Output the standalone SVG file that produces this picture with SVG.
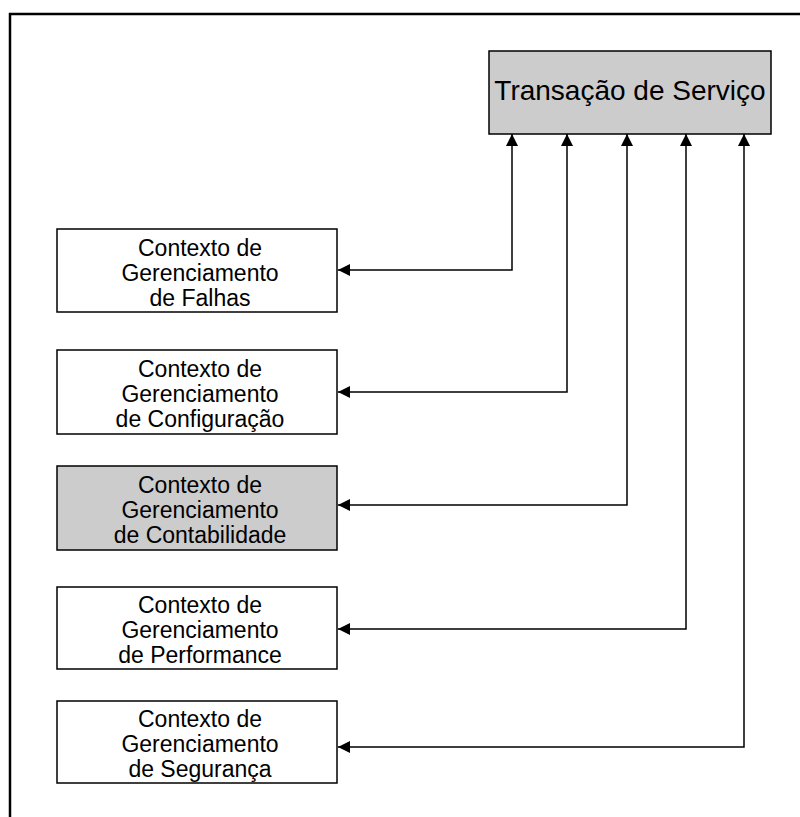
<svg xmlns="http://www.w3.org/2000/svg" width="800" height="817" viewBox="0 0 800 817">
<defs>
<style>
.frame{stroke:#000;stroke-width:2.5;fill:none}
.box{stroke:#000;stroke-width:1.5;fill:#fff}
.gray{fill:#cccccc}
.t{font-family:"Liberation Sans",Arial,sans-serif;font-size:23px;fill:#000;text-anchor:middle}
.title{font-size:28px}
.c{stroke:#000;stroke-width:1.5;fill:none}
</style>
<marker id="ah" viewBox="0 0 12 12" refX="12" refY="6" markerWidth="12" markerHeight="12" markerUnits="userSpaceOnUse" orient="auto-start-reverse">
<path d="M0,0 L12,6 L0,12 Z" fill="#000"/>
</marker>
</defs>
<rect width="800" height="817" fill="#fff"/>
<path class="frame" d="M800,14 H10 V817"/>
<g id="transacao">
<rect class="box gray" x="489" y="51" width="282" height="83"/>
<text class="t title" x="630" y="100">Transação de Serviço</text>
</g>
<g id="falhas">
<rect class="box" x="57" y="229" width="280" height="83"/>
<text class="t" x="200" y="256">Contexto de</text>
<text class="t" x="200" y="281">Gerenciamento</text>
<text class="t" x="200" y="306">de Falhas</text>
</g>
<g id="configuracao">
<rect class="box" x="57" y="350" width="280" height="84"/>
<text class="t" x="200" y="377">Contexto de</text>
<text class="t" x="200" y="402">Gerenciamento</text>
<text class="t" x="200" y="427">de Configuração</text>
</g>
<g id="contabilidade">
<rect class="box gray" x="57" y="466" width="280" height="84"/>
<text class="t" x="200" y="493">Contexto de</text>
<text class="t" x="200" y="518">Gerenciamento</text>
<text class="t" x="200" y="543">de Contabilidade</text>
</g>
<g id="performance">
<rect class="box" x="57" y="587" width="280" height="82"/>
<text class="t" x="200" y="613">Contexto de</text>
<text class="t" x="200" y="638">Gerenciamento</text>
<text class="t" x="200" y="663">de Performance</text>
</g>
<g id="seguranca">
<rect class="box" x="57" y="701" width="280" height="82"/>
<text class="t" x="200" y="727">Contexto de</text>
<text class="t" x="200" y="752">Gerenciamento</text>
<text class="t" x="200" y="777">de Segurança</text>
</g>
<g id="connectors">
<path class="c" d="M338,270 H512 V134" marker-start="url(#ah)" marker-end="url(#ah)"/>
<path class="c" d="M338,392 H567 V134" marker-start="url(#ah)" marker-end="url(#ah)"/>
<path class="c" d="M338,505 H627 V134" marker-start="url(#ah)" marker-end="url(#ah)"/>
<path class="c" d="M338,629 H686 V134" marker-start="url(#ah)" marker-end="url(#ah)"/>
<path class="c" d="M338,747 H744 V134" marker-start="url(#ah)" marker-end="url(#ah)"/>
</g>
</svg>
